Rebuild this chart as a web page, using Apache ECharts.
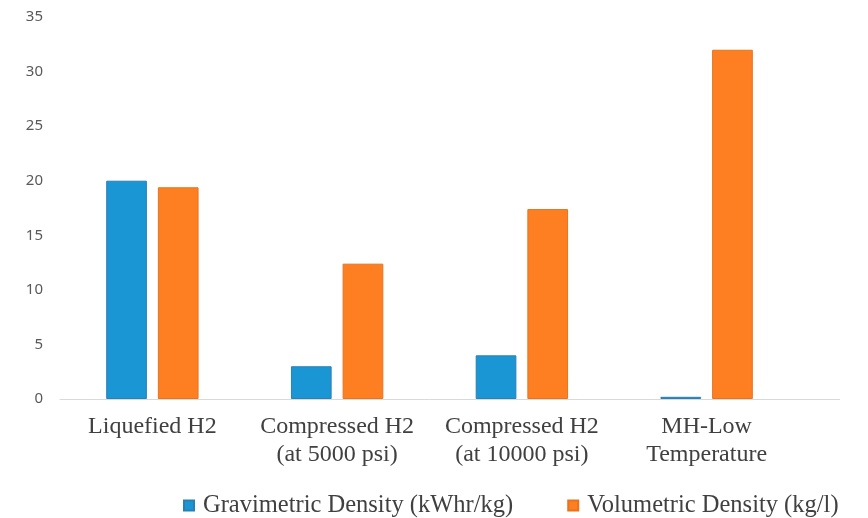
<!DOCTYPE html>
<html>
<head>
<meta charset="utf-8">
<title>Hydrogen storage densities</title>
<script src="https://cdn.jsdelivr.net/npm/echarts@6/dist/echarts.min.js"></script>
<style>
  html, body { margin: 0; padding: 0; background: #ffffff; }
  #chart { width: 868px; height: 518px; }
</style>
</head>
<body>
<div id="chart"></div>
<script>
// Storage methods along the x axis
const categories = [
  'Liquefied H2',
  'Compressed H2\n(at 5000 psi)',
  'Compressed H2\n(at 10000 psi)',
  'MH-Low\nTemperature'
];

// Series names
const gravimetricName = 'Gravimetric Density (kWhr/kg)';
const volumetricName = 'Volumetric Density (kg/l)';

// Series values
const gravimetricValues = [20, 3, 4, 0.2];
const volumetricValues = [19.4, 12.4, 17.4, 32];

// Value axis range
const yMin = 0;
const yMax = 35;
const yStep = 5;

const chart = echarts.init(document.getElementById('chart'), null, { renderer: 'canvas' });

const serif = '"Liberation Serif", "Times New Roman", serif';

chart.setOption({
  backgroundColor: '#ffffff',
  animation: false,
  grid: { left: 60, right: 69, top: 17, bottom: 119, containLabel: false },
  legend: {
    data: [gravimetricName, volumetricName],
    left: 178,
    top: 488,
    padding: 5,
    icon: 'rect',
    itemWidth: 10,
    itemHeight: 10,
    itemGap: 54,
    textStyle: { fontFamily: serif, fontSize: 24.5, color: '#404040', padding: [0, 0, 0, 4] }
  },
  xAxis: {
    type: 'category',
    data: categories,
    axisLine: { show: true, lineStyle: { color: '#d9d9d9', width: 1 } },
    axisTick: { show: false },
    axisLabel: {
      interval: 0,
      margin: 14,
      fontFamily: serif,
      fontSize: 24,
      lineHeight: 28,
      color: '#404040',
      align: 'center'
    }
  },
  yAxis: {
    type: 'value',
    min: yMin,
    max: yMax,
    interval: yStep,
    axisLine: { show: false },
    axisTick: { show: false },
    splitLine: { show: false },
    axisLabel: {
      margin: 17,
      fontFamily: '"Noto Sans", "Open Sans", sans-serif',
      fontSize: 15,
      color: '#595959'
    }
  },
  series: [
    {
      name: gravimetricName,
      type: 'bar',
      data: gravimetricValues,
      barGap: '27%',
      barCategoryGap: '50%',
      itemStyle: { color: '#1b96d5', borderColor: '#2a7fb5', borderWidth: 1 }
    },
    {
      name: volumetricName,
      type: 'bar',
      data: volumetricValues,
      itemStyle: { color: '#fd7f22', borderColor: '#e8731c', borderWidth: 1 }
    }
  ],
  graphic: [
    {
      // baseline continues past the last category
      type: 'line',
      shape: { x1: 799, y1: 399.5, x2: 840, y2: 399.5 },
      style: { stroke: '#d9d9d9', lineWidth: 1 },
      silent: true
    }
  ]
});
</script>
</body>
</html>
